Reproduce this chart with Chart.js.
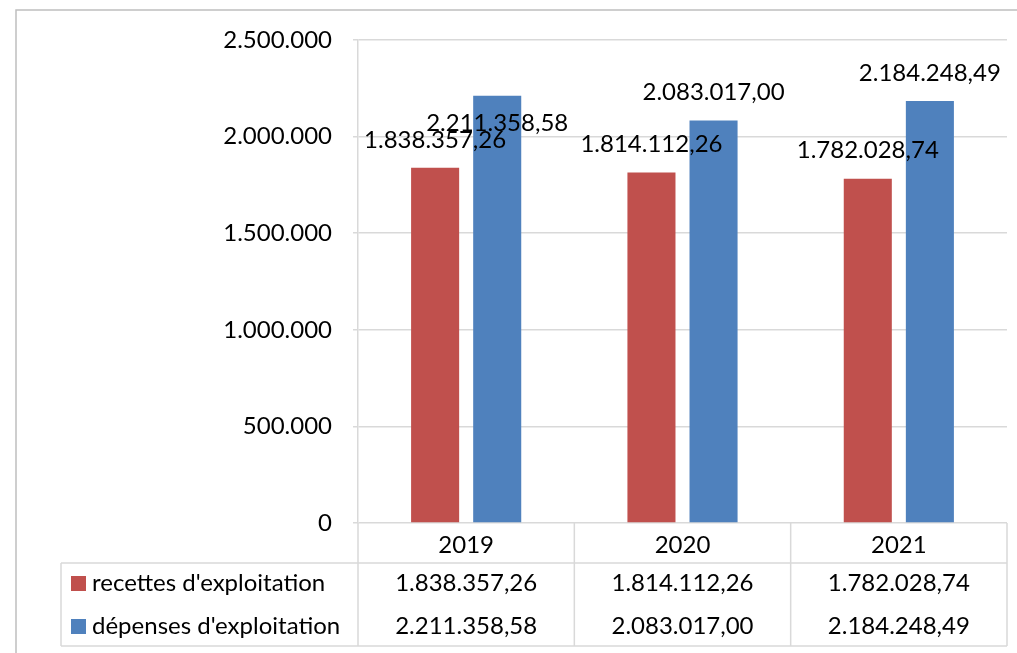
<!DOCTYPE html>
<html>
<head>
<meta charset="utf-8">
<script src="https://cdn.jsdelivr.net/npm/chart.js@4"></script>
<style>
  html, body { margin: 0; padding: 0; background: #fff; }
  #wrap { position: relative; width: 1017px; height: 653px; }
</style>
</head>
<body>
<div id="wrap"><canvas id="c" width="1017" height="653"></canvas></div>
<script>
// ---- data ----
const categories = ['2019', '2020', '2021'];
const seriesNames = ["recettes d'exploitation", "dépenses d'exploitation"];
const recettes = [1838357.26, 1814112.26, 1782028.74];
const depenses = [2211358.58, 2083017.00, 2184248.49];
const yMin = 0;
const yMax = 2500000;
const yStep = 500000;

// ---- styles ----
const FONT = 'Lato, "Liberation Sans", sans-serif';
const FSIZE = 24;
const RED = '#C0504D';
const BLUE = '#4F81BD';
const GRID = '#D9D9D9';

function fmt(v, dec) {
  const fixed = v.toFixed(dec);
  const parts = fixed.split('.');
  const int = parts[0].replace(/\B(?=(\d{3})+(?!\d))/g, '.');
  return dec > 0 ? int + ',' + parts[1] : int;
}

const tablePlugin = {
  id: 'tablePlugin',
  afterDraw(chart) {
    const ctx = chart.ctx;
    const ca = chart.chartArea;
    const xs = chart.scales.x;
    const n = categories.length;
    const cw = (ca.right - ca.left) / n;
    const headBottom = ca.bottom + 40;
    const tableBottom = ca.bottom + 123;
    const legendLeft = 61;
    ctx.save();
    // outer border
    ctx.strokeStyle = '#BFBFBF';
    ctx.lineWidth = 1.5;
    ctx.beginPath();
    ctx.moveTo(16, 653);
    ctx.lineTo(16, 10);
    ctx.lineTo(1017, 10);
    ctx.stroke();

    // table lines
    ctx.strokeStyle = GRID;
    ctx.lineWidth = 1.5;
    ctx.beginPath();
    for (let i = 0; i <= n; i++) {
      const x = ca.left + i * cw;
      ctx.moveTo(x, ca.bottom);
      ctx.lineTo(x, tableBottom);
    }
    ctx.moveTo(ca.left, headBottom);
    ctx.lineTo(ca.right, headBottom);
    ctx.moveTo(legendLeft, tableBottom);
    ctx.lineTo(ca.right, tableBottom);
    ctx.moveTo(legendLeft, headBottom);
    ctx.lineTo(ca.left, headBottom);
    ctx.moveTo(legendLeft, headBottom);
    ctx.lineTo(legendLeft, tableBottom);
    ctx.stroke();

    ctx.fillStyle = '#000';
    ctx.font = FSIZE + 'px ' + FONT;
    ctx.textAlign = 'center';
    ctx.textBaseline = 'middle';
    const rowY = [ca.bottom + 22, headBottom + 20, headBottom + 63];
    for (let i = 0; i < n; i++) {
      const cx = xs.getPixelForValue(i);
      ctx.fillText(categories[i], cx, rowY[0]);
      ctx.fillText(fmt(recettes[i], 2), cx, rowY[1]);
      ctx.fillText(fmt(depenses[i], 2), cx, rowY[2]);
    }
    const colors = [RED, BLUE];
    ctx.textAlign = 'left';
    for (let s = 0; s < 2; s++) {
      ctx.fillStyle = colors[s];
      ctx.fillRect(71, rowY[s + 1] - 7, 15, 15);
      ctx.fillStyle = '#000';
      ctx.fillText(seriesNames[s], 92, rowY[s + 1]);
    }

    // data labels
    ctx.textAlign = 'center';
    const shifts = { '1-0': 56 };
    chart.data.datasets.forEach((ds, di) => {
      const meta = chart.getDatasetMeta(di);
      meta.data.forEach((bar, i) => {
        const y = bar.y - 28 + (shifts[di + '-' + i] || 0);
        ctx.fillText(fmt(ds.data[i], 2), bar.x, y);
      });
    });
    ctx.restore();
  }
};

new Chart(document.getElementById('c'), {
  type: 'bar',
  data: {
    labels: categories,
    datasets: [
      { label: seriesNames[0], data: recettes, backgroundColor: RED },
      { label: seriesNames[1], data: depenses, backgroundColor: BLUE }
    ]
  },
  options: {
    responsive: false,
    animation: false,
    devicePixelRatio: 1,
    layout: { padding: { left: 0, top: 40, right: 10, bottom: 130 } },
    datasets: { bar: { categoryPercentage: 0.574, barPercentage: 0.774 } },
    plugins: { legend: { display: false }, tooltip: { enabled: false } },
    scales: {
      x: { display: false },
      y: {
        min: yMin, max: yMax,
        afterFit(scale) { scale.width = 358; },
        ticks: {
          stepSize: yStep,
          color: '#000',
          padding: 21,
          font: { family: FONT, size: FSIZE },
          callback: (v) => fmt(v, 0)
        },
        grid: { color: GRID, lineWidth: 1.5, tickLength: 5 },
        border: { color: GRID, width: 1.5 }
      }
    }
  },
  plugins: [tablePlugin]
});
</script>
</body>
</html>
